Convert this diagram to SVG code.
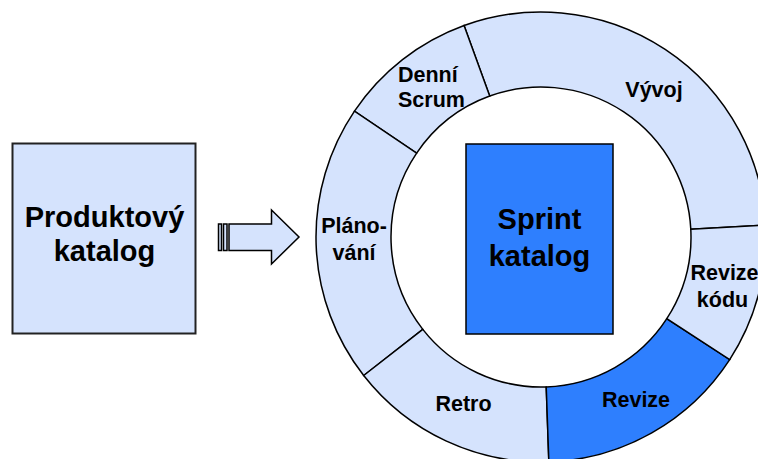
<svg xmlns="http://www.w3.org/2000/svg" width="758" height="459" viewBox="0 0 758 459">
<style>
.light{fill:#d5e3fd;stroke:#000;stroke-width:1.5}
.dark{fill:#2e7ffe;stroke:#000;stroke-width:1.5}
text{font-family:"Liberation Sans",Arial,sans-serif;font-weight:bold;fill:#000}
.big{font-size:29px;text-anchor:middle}
.lbl{font-size:21.5px;text-anchor:middle}
</style>
<rect width="758" height="459" fill="#fff"/>
<g id="produktovy-katalog">
<rect x="12.5" y="143.5" width="183" height="190" class="light" style="stroke:#222;stroke-width:2"/>
<text class="big" x="104.5" y="226.5">Produktový</text>
<text class="big" x="104.5" y="260.5">katalog</text>
</g>
<g id="connectors">
<rect x="218.5" y="224" width="3" height="26.5" class="light"/>
<rect x="223.5" y="224" width="3.5" height="26.5" class="light"/>
<polygon points="229,224 271.5,224 271.5,210 299,237 271.5,264 271.5,250.5 229,250.5" class="light"/>
</g>
<g id="vyvoj">
<path class="light" d="M765.69 225.22 A225 225 0 0 0 464.05 25.57 L489.70 96.05 A150 150 0 0 1 690.79 229.15 Z"/>
<text class="lbl" x="654" y="97">Vývoj</text>
</g>
<g id="denni-scrum">
<path class="light" d="M464.05 25.57 A225 225 0 0 0 354.47 111.18 L416.64 153.12 A150 150 0 0 1 489.70 96.05 Z"/>
<text class="lbl" x="398" y="81.5" style="text-anchor:start">Denní</text>
<text class="lbl" x="398" y="107" style="text-anchor:start">Scrum</text>
</g>
<g id="planovani">
<path class="light" d="M354.47 111.18 A225 225 0 0 0 363.70 375.52 L422.80 329.35 A150 150 0 0 1 416.64 153.12 Z"/>
<text class="lbl" x="354" y="232.5">Pláno-</text>
<text class="lbl" x="354" y="259.5">vání</text>
</g>
<g id="retro">
<path class="light" d="M363.70 375.52 A225 225 0 0 0 548.85 461.86 L546.23 386.91 A150 150 0 0 1 422.80 329.35 Z"/>
<text class="lbl" x="463.5" y="410.5">Retro</text>
</g>
<g id="revize">
<path class="dark" d="M548.85 461.86 A225 225 0 0 0 729.70 359.54 L666.80 318.70 A150 150 0 0 1 546.23 386.91 Z"/>
<text class="lbl" x="636" y="407">Revize</text>
</g>
<g id="revize-kodu">
<path class="light" d="M729.70 359.54 A225 225 0 0 0 765.69 225.22 L690.79 229.15 A150 150 0 0 1 666.80 318.70 Z"/>
<text class="lbl" x="724.5" y="279.5">Revize</text>
<text class="lbl" x="722.5" y="306.5">kódu</text>
</g>
<g id="sprint-katalog">
<rect x="466" y="144" width="147" height="190" class="dark"/>
<text class="big" x="539.5" y="229">Sprint</text>
<text class="big" x="539.5" y="265.5">katalog</text>
</g>
</svg>
